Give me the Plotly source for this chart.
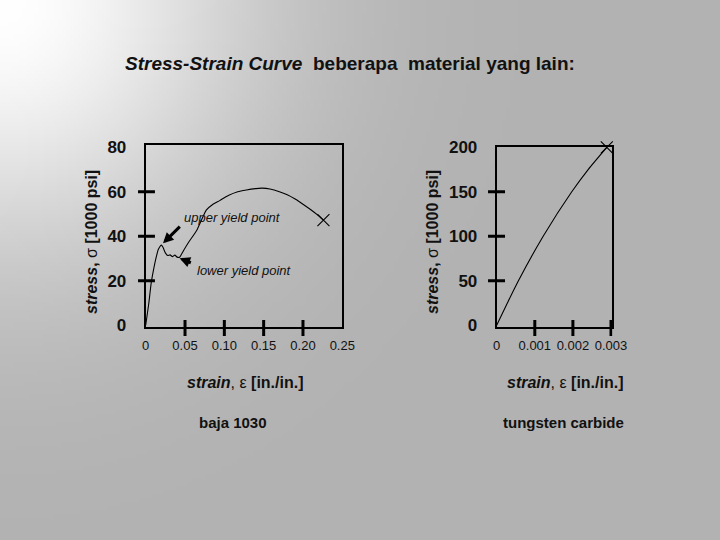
import base64
import struct
import zlib
import numpy as np
import plotly.graph_objects as go

# ---------------- data ----------------
steel_strain = [0, 0.004, 0.007, 0.010, 0.013, 0.016, 0.019, 0.020, 0.022, 0.025, 0.028,
                0.031, 0.034, 0.037, 0.040, 0.043, 0.048, 0.055, 0.065, 0.077, 0.086,
                0.094, 0.105, 0.117, 0.128, 0.140, 0.148, 0.158, 0.170, 0.180, 0.190,
                0.200, 0.210, 0.218, 0.226]
steel_stress = [0, 10, 19, 25, 30, 34, 35.8, 36, 35, 32.5, 31.3,
                31.6, 30.8, 31.5, 30.6, 30.5, 33.5, 37.5, 42.7, 51.7, 54.5,
                56, 58.3, 60, 60.8, 61.4, 61.6, 61.2, 60, 58.6, 56.7,
                54.4, 51.9, 49.7, 47.2]

wc_strain = [0, 0.00028, 0.00057, 0.00122, 0.00197, 0.0024, 0.00289]
wc_stress = [0, 25, 50, 100, 150, 175, 200]

steel_xticks = [0, 0.05, 0.10, 0.15, 0.20, 0.25]
steel_xticktext = ["0", "0.05", "0.10", "0.15", "0.20", "0.25"]
steel_xmarks = [0.05, 0.10, 0.15, 0.20]
steel_yticks = [0, 20, 40, 60, 80]
steel_ymarks = [20, 40, 60]

wc_xticks = [0, 0.001, 0.002, 0.003]
wc_xticktext = ["0", "0.001", "0.002", "0.003"]
wc_xmarks = [0.001, 0.002, 0.003]
wc_yticks = [0, 50, 100, 150, 200]
wc_ymarks = [50, 100, 150]

# ---------------- helpers ----------------
W, H = 720, 540
def px(x):
    return x / W
def py(y):
    return 1 - y / H

FONT = "Arial, Liberation Sans, sans-serif"


def gradient_png(w, h, scale):
    """Grey background, white glow at the top-left corner (decoration only)."""
    xs = (np.arange(w) + 0.5) * scale
    ys = (np.arange(h) + 0.5) * scale
    gxx, gyy = np.meshgrid(xs, ys)
    r = np.sqrt(gxx ** 2 + gyy ** 2)
    v = np.clip(178 + 77 * np.exp(-(r / 250.0) ** 2), 0, 255).astype(np.uint8)
    raw = b"".join(b"\x00" + v[i].tobytes() for i in range(h))
    def chunk(tag, data):
        c = struct.pack(">I", len(data)) + tag + data
        return c + struct.pack(">I", zlib.crc32(tag + data) & 0xFFFFFFFF)
    png = (b"\x89PNG\r\n\x1a\n" + chunk(b"IHDR", struct.pack(">IIBBBBB", w, h, 8, 0, 0, 0, 0))
           + chunk(b"IDAT", zlib.compress(raw, 9)) + chunk(b"IEND", b""))
    return "data:image/png;base64," + base64.b64encode(png).decode()


fig = go.Figure()

# steel curve
fig.add_trace(go.Scatter(x=steel_strain, y=steel_stress, mode="lines",
                         line=dict(color="black", width=1.1, shape="spline", smoothing=0.5),
                         xaxis="x", yaxis="y", hoverinfo="skip"))
fig.add_trace(go.Scatter(x=steel_strain[-1:], y=steel_stress[-1:], mode="markers",
                         marker=dict(symbol="x-thin-open", size=12, color="black",
                                     line=dict(width=1.1, color="black")),
                         xaxis="x", yaxis="y", cliponaxis=False, hoverinfo="skip"))

# tungsten carbide curve
fig.add_trace(go.Scatter(x=wc_strain, y=wc_stress, mode="lines",
                         line=dict(color="black", width=1.1, shape="spline", smoothing=0.6),
                         xaxis="x2", yaxis="y2", hoverinfo="skip"))
fig.add_trace(go.Scatter(x=wc_strain[-1:], y=wc_stress[-1:], mode="markers",
                         marker=dict(symbol="x-thin-open", size=12, color="black",
                                     line=dict(width=1.1, color="black")),
                         xaxis="x2", yaxis="y2", cliponaxis=False, hoverinfo="skip"))

axis_common = dict(showline=True, linecolor="black", linewidth=2, mirror=True,
                   showgrid=False, zeroline=False, ticks="", fixedrange=True,
                   automargin=False)

fig.update_layout(
    width=W, height=H,
    autosize=False,
    margin=dict(l=0, r=0, t=0, b=0, pad=0, autoexpand=False),
    paper_bgcolor="#b3b3b3",
    plot_bgcolor="rgba(0,0,0,0)",
    showlegend=False,
    images=[dict(source=gradient_png(180, 135, 4), xref="paper", yref="paper",
                 x=0, y=1, sizex=1, sizey=1, sizing="stretch", xanchor="left",
                 yanchor="top", layer="below")],
    xaxis=dict(domain=[px(145.7), px(342.3)], range=[0, 0.25], anchor="y",
               tickvals=steel_xticks, ticktext=steel_xticktext,
               tickfont=dict(family=FONT, size=13, color="#111"),
               ticklabelstandoff=6, **axis_common),
    yaxis=dict(domain=[py(326.7), py(145)], range=[-0.67, 81.0], anchor="x",
               tickvals=steel_yticks, ticktext=[f"<b>{v}</b>" for v in steel_yticks],
               tickfont=dict(family=FONT, size=17, color="#111"),
               ticklabelstandoff=14, **axis_common),
    xaxis2=dict(domain=[px(496.7), px(612.3)], range=[0, 0.003034], anchor="y2",
                tickvals=wc_xticks, ticktext=wc_xticktext,
                tickfont=dict(family=FONT, size=13, color="#111"),
                ticklabelstandoff=6, **axis_common),
    yaxis2=dict(domain=[py(326.7), py(147.3)], range=[-1.7, 200], anchor="x2",
                tickvals=wc_yticks, ticktext=[f"<b>{v}</b>" for v in wc_yticks],
                tickfont=dict(family=FONT, size=17, color="#111"),
                ticklabelstandoff=14, **axis_common),
)

# tick marks crossing the axes
shapes = []
for v in steel_ymarks:
    shapes.append(dict(type="line", xref="x domain", yref="y", x0=-0.039, x1=0.047,
                       y0=v, y1=v, line=dict(color="black", width=3)))
for v in steel_xmarks:
    shapes.append(dict(type="line", xref="x", yref="y domain", x0=v, x1=v,
                       y0=0.037, y1=-0.051, line=dict(color="black", width=3)))
for v in wc_ymarks:
    shapes.append(dict(type="line", xref="x2 domain", yref="y2", x0=-0.075, x1=0.072,
                       y0=v, y1=v, line=dict(color="black", width=3)))
for v in wc_xmarks:
    shapes.append(dict(type="line", xref="x2", yref="y2 domain", x0=v, x1=v,
                       y0=0.037, y1=-0.052, line=dict(color="black", width=3)))
fig.update_layout(shapes=shapes)

ann = []
def text(x, y, s, size, angle=0, xanchor="center"):
    ann.append(dict(x=px(x), y=py(y), xref="paper", yref="paper", text=s, showarrow=False,
                    xanchor=xanchor, yanchor="middle", textangle=angle,
                    font=dict(family=FONT, size=size, color="#111")))

text(123, 63, "<b><i>Stress-Strain Curve</i>\u00a0 beberapa\u00a0 material yang lain:</b>", 19, xanchor="left")
text(91, 242, "<b><i>stress</i>,</b> σ <b>[1000 psi]</b>", 16, angle=-90)
text(432, 242, "<b><i>stress</i>,</b> σ <b>[1000 psi]</b>", 16, angle=-90)
text(245, 382, "<b><i>strain</i></b>, ε <b>[in./in.]</b>", 16)
text(565, 382, "<b><i>strain</i></b>, ε <b>[in./in.]</b>", 16)
text(233, 422, "<b>baja 1030</b>", 15)
text(563, 422, "<b>tungsten carbide</b>", 15)
text(232.5, 217, "<i>upper yield point</i>", 13)
text(244, 270, "<i>lower yield point</i>", 13)

# arrows pointing at the yield points
ann.append(dict(x=0.022, y=36.8, ax=0.0453, ay=45.0, xref="x", yref="y",
                axref="x", ayref="y", text="", showarrow=True, arrowhead=2,
                arrowsize=0.7, arrowwidth=3, arrowcolor="black"))
ann.append(dict(x=0.0431, y=30.1, ax=0.0593, ay=27.8, xref="x", yref="y",
                axref="x", ayref="y", text="", showarrow=True, arrowhead=2,
                arrowsize=0.7, arrowwidth=3, arrowcolor="black"))
fig.update_layout(annotations=ann)

fig.write_html("out.html", config={"displayModeBar": False},
               post_script="document.body.style.margin='0';document.body.style.overflow='hidden';")
